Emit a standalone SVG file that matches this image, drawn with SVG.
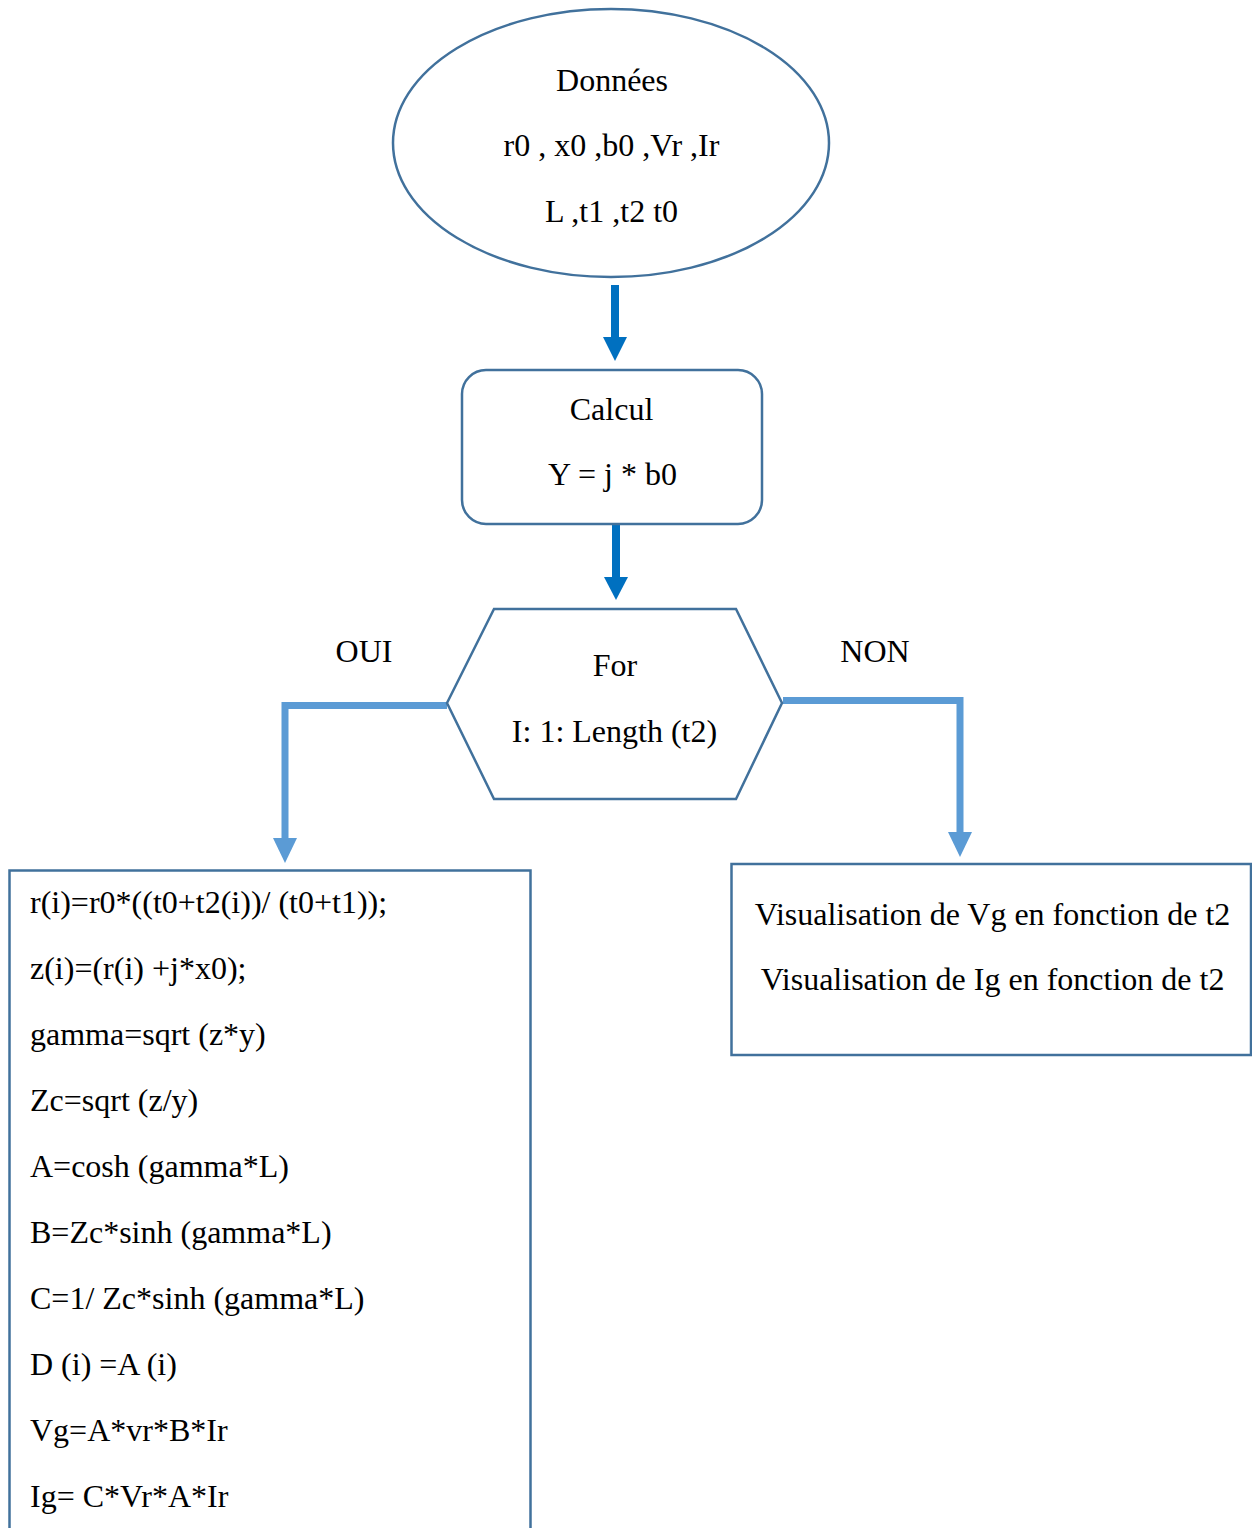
<svg xmlns="http://www.w3.org/2000/svg" width="1252" height="1528" viewBox="0 0 1252 1528">
<style>
.shape{fill:#ffffff;stroke:#41719C;stroke-width:2.5}
text{font-family:"Liberation Serif","Times New Roman",serif;font-size:32px;fill:#000}
.c{text-anchor:middle}
.dark{fill:none;stroke:#0070C0;stroke-width:8}
.light{fill:none;stroke:#5B9BD5;stroke-width:7}
.hd{fill:#0070C0}
.hl{fill:#5B9BD5}
</style>
<rect width="1252" height="1528" fill="#ffffff"/>
<g id="connectors">
<line class="dark" x1="615" y1="285" x2="615" y2="339"/>
<polygon class="hd" points="603,337 627,337 615,361"/>
<line class="dark" x1="616" y1="524" x2="616" y2="579"/>
<polygon class="hd" points="604,577 628,577 616,600"/>
<polyline class="light" points="447,705.5 285,705.5 285,840"/>
<polygon class="hl" points="273,838 297,838 285,863"/>
<polyline class="light" points="783,700.5 960,700.5 960,834"/>
<polygon class="hl" points="948,832 972,832 960,857"/>
</g>
<g id="node-donnees">
<ellipse class="shape" cx="611" cy="143" rx="218" ry="134"/>
<text class="c" x="612" y="91">Données</text>
<text class="c" x="611.5" y="156">r0 , x0 ,b0 ,Vr ,Ir</text>
<text class="c" x="611.5" y="222">L ,t1 ,t2 t0</text>
</g>
<g id="node-calcul">
<rect class="shape" x="462" y="370" width="300" height="154" rx="24"/>
<text class="c" x="611.5" y="420">Calcul</text>
<text class="c" x="612.5" y="485">Y = j * b0</text>
</g>
<g id="node-for">
<polygon class="shape" points="494,609 736,609 782,703 736,799 494,799 447,703"/>
<text class="c" x="615" y="676">For</text>
<text class="c" x="614.5" y="742">I: 1: Length (t2)</text>
</g>
<g id="label-oui"><text class="c" x="364" y="662">OUI</text></g>
<g id="label-non"><text class="c" x="875" y="662">NON</text></g>
<g id="node-boucle">
<rect class="shape" x="9.5" y="870.5" width="521" height="680"/>
<text x="30" y="913">r(i)=r0*((t0+t2(i))/ (t0+t1));</text>
<text x="30" y="979">z(i)=(r(i) +j*x0);</text>
<text x="30" y="1045">gamma=sqrt (z*y)</text>
<text x="30" y="1111">Zc=sqrt (z/y)</text>
<text x="30" y="1177">A=cosh (gamma*L)</text>
<text x="30" y="1243">B=Zc*sinh (gamma*L)</text>
<text x="30" y="1309">C=1/ Zc*sinh (gamma*L)</text>
<text x="30" y="1375">D (i) =A (i)</text>
<text x="30" y="1441">Vg=A*vr*B*Ir</text>
<text x="30" y="1507">Ig= C*Vr*A*Ir</text>
</g>
<g id="node-visualisation">
<rect class="shape" x="731.5" y="864" width="519.5" height="191"/>
<text class="c" x="992.5" y="925">Visualisation de Vg en fonction de t2</text>
<text class="c" x="992.5" y="990">Visualisation de Ig en fonction de t2</text>
</g>
</svg>
